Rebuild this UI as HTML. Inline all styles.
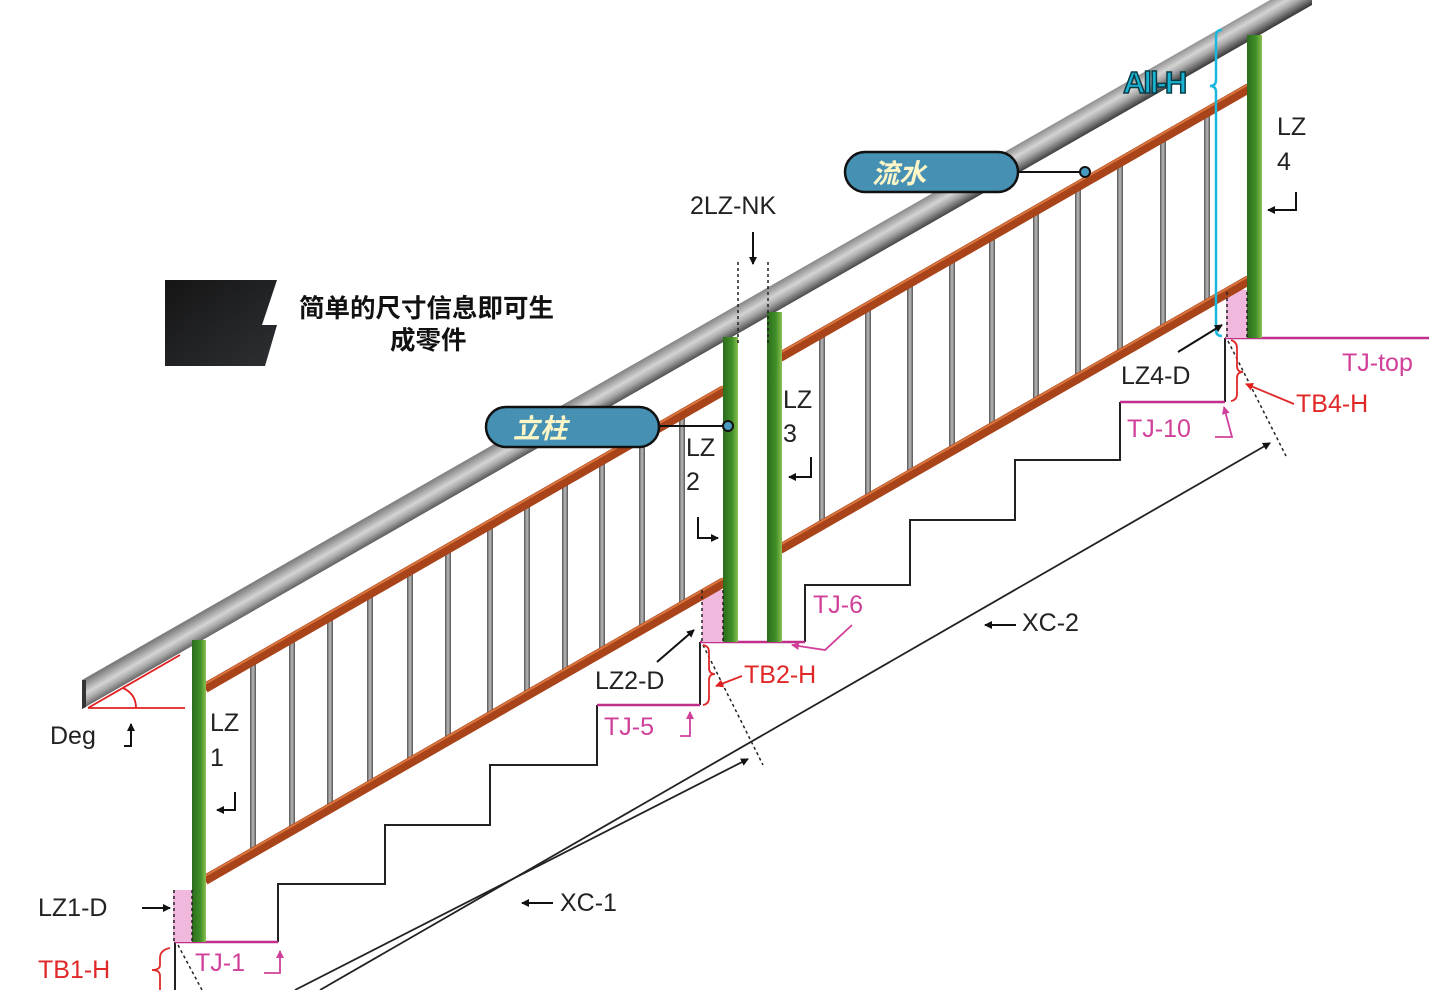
<!DOCTYPE html>
<html><head><meta charset="utf-8"><style>
html,body{margin:0;padding:0;background:#fff;}
svg{display:block;}
text{font-family:"Liberation Sans","DejaVu Sans","Noto Sans CJK SC",sans-serif;}
.cn{font-family:"Noto Sans CJK SC","WenQuanYi Zen Hei",sans-serif;font-weight:bold;}
</style></head><body>
<svg id="s" width="1429" height="990" viewBox="0 0 1429 990" xmlns="http://www.w3.org/2000/svg">
<defs>
<linearGradient id="hg" gradientUnits="userSpaceOnUse" x1="698" y1="326" x2="713" y2="352">
<stop offset="0" stop-color="#7a7a7a"/><stop offset="0.4" stop-color="#d4d4d4"/><stop offset="0.6" stop-color="#a8a8a8"/><stop offset="1" stop-color="#262626"/>
</linearGradient>
<linearGradient id="gp" x1="0" y1="0" x2="1" y2="0">
<stop offset="0" stop-color="#2c6b1c"/><stop offset="0.6" stop-color="#3f8f28"/><stop offset="1" stop-color="#8cc050"/>
</linearGradient>
<linearGradient id="bal" x1="0" y1="0" x2="1" y2="0">
<stop offset="0" stop-color="#555"/><stop offset="0.5" stop-color="#bbb"/><stop offset="1" stop-color="#555"/>
</linearGradient>
<linearGradient id="blk" x1="0" y1="0" x2="1" y2="1">
<stop offset="0" stop-color="#151515"/><stop offset="1" stop-color="#2d2f33"/>
</linearGradient>
<marker id="ar" markerWidth="8" markerHeight="8" refX="7" refY="4" orient="auto" markerUnits="userSpaceOnUse"><path d="M0,0 L8,4 L0,8 Z" fill="#111"/></marker>
<marker id="arp" markerWidth="8" markerHeight="8" refX="7" refY="4" orient="auto" markerUnits="userSpaceOnUse"><path d="M0,0 L8,4 L0,8 Z" fill="#d0409a"/></marker>
<marker id="arr" markerWidth="8" markerHeight="8" refX="7" refY="4" orient="auto" markerUnits="userSpaceOnUse"><path d="M0,0 L8,4 L0,8 Z" fill="#e02020"/></marker>
</defs>

<!-- stairs -->
<path d="M278,942 V884 H385 V825 H490 V765 H597 V705 M700,705 V642 M805,642 V585 H910 V520 H1015 V460 H1120 V402 M1225,402 V338" fill="none" stroke="#222" stroke-width="2"/>
<path d="M175,942 V990" stroke="#222" stroke-width="2"/>
<g stroke="#c0308a" stroke-width="2.5" fill="none">
<path d="M175,942 H278"/><path d="M597,705 H700"/><path d="M700,642 H805"/><path d="M1120,402 H1225"/><path d="M1225,338 H1429"/>
</g>

<!-- pink areas -->
<rect x="173" y="890" width="20" height="52" fill="#f0b8dc"/>
<rect x="702" y="590" width="22" height="52" fill="#f0b8dc"/>
<rect x="1226" y="290" width="22" height="48" fill="#f0b8dc"/>

<g id="bals"></g>

<!-- brown rails -->
<g stroke="#a8431a" stroke-width="10" stroke-linecap="butt">
<line x1="205" y1="688" x2="724" y2="390"/>
<line x1="205" y1="880" x2="724" y2="582"/>
<line x1="780" y1="357" x2="1249" y2="88"/>
<line x1="780" y1="549" x2="1249" y2="280"/>
</g>
<g stroke="#d9743d" stroke-width="2">
<line x1="205" y1="684" x2="724" y2="386"/>
<line x1="205" y1="876" x2="724" y2="578"/>
<line x1="780" y1="353" x2="1249" y2="84"/>
<line x1="780" y1="545" x2="1249" y2="276"/>
</g>

<!-- handrail -->
<polygon points="82,680 1312,-24 1312,5 82,709" fill="url(#hg)"/>
<polygon points="82,680 82,709 86,707 86,680" fill="#333"/>

<!-- green posts -->
<rect x="192" y="640" width="14" height="302" fill="url(#gp)"/>
<rect x="723" y="337" width="15" height="305" fill="url(#gp)"/>
<rect x="767" y="312" width="15" height="330" fill="url(#gp)"/>
<rect x="1247" y="35" width="15" height="303" fill="url(#gp)"/>

<!-- dotted lines -->
<g stroke="#222" stroke-width="1.5" stroke-dasharray="3,3" fill="none">
<line x1="738" y1="262" x2="738" y2="345"/><line x1="768" y1="262" x2="768" y2="345"/>
<line x1="174" y1="890" x2="174" y2="942"/><line x1="192" y1="890" x2="192" y2="942"/>
<line x1="702" y1="590" x2="702" y2="642"/><line x1="723" y1="590" x2="723" y2="642"/>
<line x1="1227" y1="292" x2="1227" y2="338"/><line x1="1247" y1="292" x2="1247" y2="338"/>
<line x1="178" y1="945" x2="202" y2="990"/>
<line x1="703" y1="645" x2="763" y2="765"/>
<line x1="1228" y1="341" x2="1286" y2="456"/>
</g>

<!-- XC lines -->
<line x1="295" y1="990" x2="748" y2="759" stroke="#222" stroke-width="1.8" marker-end="url(#ar)"/>
<line x1="320" y1="990" x2="1270" y2="443" stroke="#222" stroke-width="1.8" marker-end="url(#ar)"/>

<!-- blue All-H -->
<path d="M1222,30 Q1216,30 1216,36 V80 Q1216,86 1210,86 Q1216,86 1216,92 V330 Q1216,336 1222,336" fill="none" stroke="#19b8dc" stroke-width="2.5"/>
<text x="1123" y="93" font-size="31" font-weight="bold" fill="#1ab2d2" stroke="#0a3a44" stroke-width="1.5" letter-spacing="-2">All-H</text>

<!-- Deg -->
<g stroke="#e02020" stroke-width="1.8" fill="none">
<line x1="88" y1="708" x2="185" y2="708"/>
<line x1="88" y1="708" x2="180" y2="655"/>
<path d="M123,688 Q136,694 136,708"/>
</g>
<text x="50" y="744" font-size="25" fill="#222">Deg</text>
<path d="M124,746 H131 V724" stroke="#111" stroke-width="2" fill="none" marker-end="url(#ar)"/>

<!-- LZ labels -->
<g font-size="25" fill="#222">
<text x="210" y="731">LZ</text><text x="210" y="766">1</text>
<text x="686" y="456">LZ</text><text x="686" y="490">2</text>
<text x="783" y="408">LZ</text><text x="783" y="442">3</text>
<text x="1277" y="135">LZ</text><text x="1277" y="170">4</text>
<text x="690" y="214">2LZ-NK</text>
<text x="38" y="916">LZ1-D</text>
<text x="595" y="689">LZ2-D</text>
<text x="1121" y="384">LZ4-D</text>
<text x="1022" y="631">XC-2</text>
<text x="560" y="911">XC-1</text>
</g>
<g stroke="#111" stroke-width="2" fill="none">
<path d="M235,792 V810 H217" marker-end="url(#ar)"/>
<path d="M698,517 V538 H718" marker-end="url(#ar)"/>
<path d="M811,457 V477 H789" marker-end="url(#ar)"/>
<path d="M1296,192 V210 H1268" marker-end="url(#ar)"/>
<path d="M753,232 V264" marker-end="url(#ar)"/>
<path d="M142,908 H170" marker-end="url(#ar)"/>
<path d="M657,662 L694,630" marker-end="url(#ar)"/>
<path d="M1178,352 L1222,325" marker-end="url(#ar)"/>
<path d="M1016,625 H985" marker-end="url(#ar)"/>
<path d="M553,903 H522" marker-end="url(#ar)"/>
</g>

<!-- pink labels -->
<g font-size="25" fill="#d0409a">
<text x="195" y="971">TJ-1</text>
<text x="604" y="735">TJ-5</text>
<text x="813" y="613">TJ-6</text>
<text x="1127" y="437">TJ-10</text>
<text x="1342" y="371">TJ-top</text>
</g>
<g stroke="#d0409a" stroke-width="1.8" fill="none">
<path d="M264,973 H280 V951" marker-end="url(#arp)"/>
<path d="M680,736 H690 V712" marker-end="url(#arp)"/>
<path d="M852,625 L825,650 L792,645" marker-end="url(#arp)"/>
<path d="M1215,437 H1232 L1224,407" marker-end="url(#arp)"/>
</g>

<!-- red labels -->
<g font-size="25" fill="#e02828">
<text x="38" y="978">TB1-H</text>
<text x="744" y="683">TB2-H</text>
<text x="1296" y="412">TB4-H</text>
</g>
<g stroke="#e02828" stroke-width="1.8" fill="none">
<path d="M170,948 Q160,950 160,958 V965 Q160,970 152,970 Q160,970 160,976 V990"/>
<path d="M703,645 Q709,646 709,652 V668 Q709,674 715,674 Q709,674 709,680 V698 Q709,704 703,705"/>
<path d="M1231,340 Q1237,342 1237,348 V366 Q1237,372 1243,372 Q1237,372 1237,378 V394 Q1237,400 1231,401"/>
<path d="M742,676 L716,686" marker-end="url(#arr)"/>
<path d="M1294,404 L1246,384" marker-end="url(#arr)"/>
</g>

<!-- pills -->
<line x1="1015" y1="172" x2="1085" y2="172" stroke="#111" stroke-width="2"/>
<circle cx="1085" cy="172" r="5" fill="#4a9bc0" stroke="#111" stroke-width="2"/>
<rect x="845" y="152" width="173" height="40" rx="20" fill="#4590b3" stroke="#111" stroke-width="2.5"/>
<text x="872" y="183" class="cn" font-size="27" fill="#fff6c8" font-style="italic">流水</text>
<line x1="655" y1="426" x2="728" y2="426" stroke="#111" stroke-width="2"/>
<circle cx="728" cy="426" r="5" fill="#4a9bc0" stroke="#111" stroke-width="2"/>
<rect x="486" y="407" width="173" height="40" rx="20" fill="#4590b3" stroke="#111" stroke-width="2.5"/>
<text x="513" y="438" class="cn" font-size="27" fill="#fff6c8" font-style="italic">立柱</text>

<!-- black block -->
<polygon points="165,280 277,280 262,325 277,325 265,366 165,366" fill="url(#blk)"/>
<text x="299" y="317" class="cn" font-size="25.5" fill="#111">简单的尺寸信息即可生</text>
<text x="390" y="349" class="cn" font-size="25.5" fill="#111">成零件</text>
</svg>
<script>
var g=document.getElementById('bals');
var xs=[253,292,330,370,410,448,490,527,565,602,642,682,822,868,910,952,992,1036,1078,1120,1163,1207];
var ns='http://www.w3.org/2000/svg';
xs.forEach(function(x){var u=688-0.575*(x-205);var r=document.createElementNS(ns,'rect');
r.setAttribute('x',x-3);r.setAttribute('y',u);r.setAttribute('width',6);r.setAttribute('height',192);r.setAttribute('fill','url(#bal)');g.appendChild(r);});
</script>
</body></html>
